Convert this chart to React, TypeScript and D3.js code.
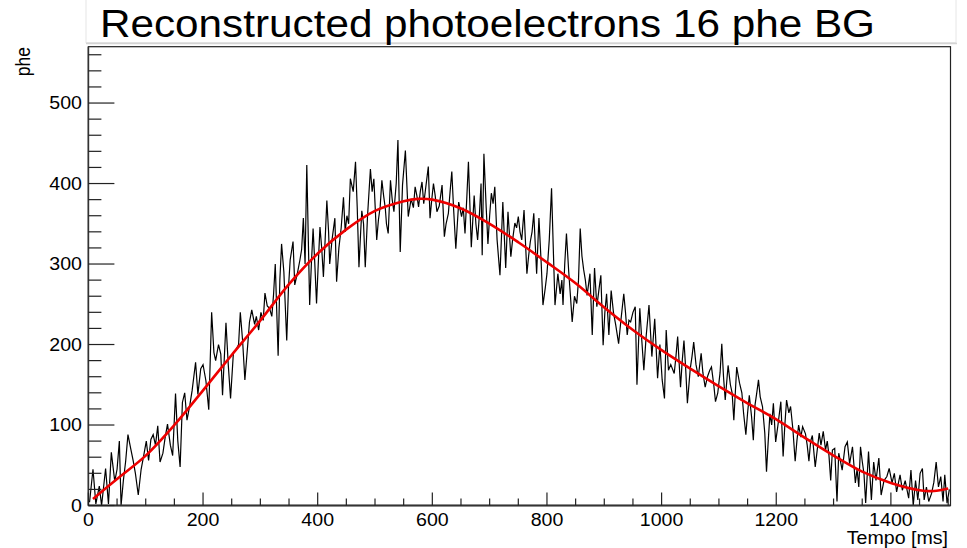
import React from "react";
import * as d3 from "d3";

const W = 967;
const H = 548;

const titleText = "Reconstructed photoelectrons 16 phe BG";
const xLabel = "Tempo [ms]";
const yLabel = "phe";

const xDomain = [0, 1504];
const yDomain = [0, 570];
const xMajorTicks = [0, 200, 400, 600, 800, 1000, 1200, 1400];
const yMajorTicks = [0, 100, 200, 300, 400, 500];

// measured histogram samples (time in ms, counts in phe)
const tMs = [
  2, 8, 13, 19, 23, 30, 35, 40, 46, 50, 54, 57, 61, 65, 69, 74, 78, 82, 87, 92,
  96, 101, 105, 109, 113, 117, 121, 125, 130, 134, 138, 143, 147, 152, 156, 160, 164, 168, 172, 177,
  181, 187, 191, 196, 200, 205, 210, 215, 219, 222, 227, 231, 234, 240, 244, 248, 253, 257,
  262, 265, 269, 273, 278, 281, 285, 290, 293, 297, 301, 305, 308, 312, 316, 320, 323, 326, 331, 334,
  337, 341, 346, 349, 352, 357, 360, 365, 369, 372, 375, 378, 381, 386, 389, 392, 395, 398, 401, 404,
  407, 410, 413, 416, 419, 421, 425, 430, 433, 437, 441, 445, 448, 451, 454, 457, 462, 466, 469, 472,
  475, 477, 480, 483, 487, 492, 495, 498, 503, 506, 509,
  512, 515, 518, 520, 523, 527, 530, 533, 537, 540, 544, 548, 553, 558, 563, 567, 570, 573, 576, 579,
  582, 585, 588, 593, 596, 599, 602, 605, 608, 612, 617, 621, 624, 628, 631, 634, 637, 641, 646, 651,
  654, 657, 660, 663, 668, 673, 676, 679, 682, 685, 687, 690, 694, 697, 700, 703, 706, 709, 713, 718,
  723, 728, 732, 737, 740, 744, 747, 750, 753, 756, 760,
  765, 768, 771, 774, 777, 782, 786, 790, 793, 797, 800, 804, 808, 811, 814, 819, 823, 826, 828, 831,
  834, 838, 841, 844, 848, 852, 855, 858, 861, 864, 867, 870, 875, 879, 883, 887, 891, 894, 898, 901,
  904, 908, 912, 916, 920, 925, 929, 934, 937, 940, 943, 946, 950, 954, 957, 962, 965, 969, 973, 978,
  983, 988, 993, 997, 1001, 1005, 1008, 1012,
  1016, 1022, 1025, 1028, 1033, 1036, 1039, 1042, 1045, 1050, 1053, 1056, 1060, 1064, 1069, 1072, 1076, 1080, 1084, 1087,
  1091, 1094, 1098, 1102, 1105, 1108, 1111, 1116, 1120, 1123, 1126, 1131, 1136, 1140, 1143, 1147, 1150, 1153, 1157, 1160,
  1163, 1166, 1169, 1172, 1176, 1180, 1183, 1186, 1189, 1192, 1195, 1199, 1203, 1208, 1212, 1215, 1218, 1222, 1225, 1229,
  1233, 1236, 1239, 1243, 1246, 1251, 1254, 1257, 1260, 1263, 1268,
  1275, 1278, 1282, 1286, 1289, 1292, 1295, 1298, 1302, 1306, 1309, 1312, 1315, 1320, 1324, 1328, 1333, 1338, 1341, 1344,
  1347, 1350, 1353, 1356, 1361, 1366, 1370, 1374, 1379, 1383, 1388, 1393, 1397, 1402, 1406, 1410, 1416, 1420, 1425, 1431,
  1435, 1439, 1443, 1447, 1451, 1455, 1458, 1462, 1466, 1471, 1475, 1479, 1483, 1487, 1491, 1494, 1498, 1502,
];

const phe = [
  4, 45, 2, 24, 0, 46, 2, 66, 30, 45, 80, 0, 31, 55, 88, 70, 56, 40, 13, 45,
  60, 80, 56, 82, 88, 75, 99, 54, 65, 85, 101, 75, 62, 139, 80, 48, 128, 140, 106, 125,
  143, 178, 138, 170, 175, 155, 119, 240, 190, 180, 200, 188, 137, 227, 175, 133, 190, 193,
  200, 240, 205, 156, 200, 228, 243, 225, 235, 218, 240, 230, 264, 248, 245, 235, 262, 300, 186, 280,
  325, 290, 205, 270, 305, 328, 274, 290, 305, 318, 357, 300, 423, 249, 300, 344, 300, 251, 300, 346,
  320, 284, 330, 379, 340, 300, 330, 357, 278, 320, 345, 383, 340, 360, 350, 406, 390, 427, 370, 296,
  340, 366, 350, 296, 360, 418, 390, 406, 330, 355, 371,
  404, 385, 369, 350, 338, 404, 380, 365, 400, 454, 315, 398, 441, 359, 381, 370, 396, 385, 371, 390,
  402, 375, 392, 421, 357, 380, 400, 385, 365, 372, 398, 334, 350, 363, 390, 415, 370, 319, 377, 359,
  370, 338, 380, 427, 321, 385, 350, 330, 360, 400, 311, 437, 370, 325, 360, 388, 375, 396, 330, 286,
  377, 295, 365, 309, 330, 351, 345, 359, 340, 330, 367,
  288, 310, 328, 340, 363, 288, 357, 300, 249, 270, 288, 330, 394, 320, 249, 288, 263, 280, 249, 300,
  338, 290, 260, 228, 260, 251, 280, 344, 310, 293, 280, 261, 288, 212, 295, 247, 270, 286, 199, 240,
  263, 212, 267, 240, 224, 201, 230, 263, 240, 212, 230, 228, 240, 247, 150, 245, 210, 168, 210, 249,
  185, 232, 158, 200, 156, 133, 218, 168,
  175, 164, 185, 210, 147, 180, 205, 170, 127, 170, 185, 203, 175, 160, 189, 165, 147, 160, 168, 172,
  150, 129, 140, 165, 201, 160, 131, 174, 150, 140, 106, 172, 152, 140, 115, 88, 115, 137, 110, 81,
  125, 140, 156, 135, 123, 90, 42, 80, 114, 100, 127, 79, 100, 129, 61, 100, 131, 115, 123, 95,
  55, 80, 100, 85, 98, 89, 75, 55, 80, 87, 48,
  90, 75, 92, 69, 80, 62, 31, 69, 71, 5, 65, 55, 44, 73, 79, 52, 73, 28, 45, 23,
  73, 55, 40, 3, 67, 7, 54, 31, 59, 13, 31, 36, 46, 28, 40, 17, 38, 19, 31, 9,
  44, 0, 31, 7, 40, 46, 7, 23, 5, 15, 29, 54, 23, 36, 5, 38, 3, 20,
];

// fitted curve samples (time in ms, phe)
const fitT = [8, 50, 100, 150, 200, 250, 300, 350, 400, 450, 500, 550, 575, 600, 650, 700, 750, 800, 850, 900, 950, 1000, 1050, 1100, 1150, 1200, 1250, 1300, 1350, 1400, 1450, 1475, 1500];
const fitV = [8, 33, 62, 100, 143, 187, 230, 275, 313, 343, 366, 378, 381, 380, 369, 350, 327, 302, 276, 246, 218, 193, 170, 148, 127, 107, 84, 62, 42, 28, 19, 18, 21];

const FONT = "'Liberation Sans', Arial, Helvetica, sans-serif";
const SX = 1.12;

export default function App() {
  const left = 88.4;
  const right = 950.5;
  const top = 46.7;
  const bottom = 505.5;

  const x = d3.scaleLinear().domain(xDomain).range([left, right]);
  const y = d3.scaleLinear().domain(yDomain).range([bottom, top]);

  const dataPts: [number, number][] = tMs.map((t, i) => [t, phe[i]]);
  const fitPts: [number, number][] = fitT.map((t, i) => [t, fitV[i]]);

  const line = d3
    .line<[number, number]>()
    .x((d) => x(d[0]))
    .y((d) => y(d[1]));
  const fitLine = d3
    .line<[number, number]>()
    .x((d) => x(d[0]))
    .y((d) => y(d[1]))
    .curve(d3.curveCatmullRom.alpha(0.5));

  const xMinor = d3.range(0, 1501, 50).filter((v) => v % 200 !== 0);
  const yMinor = d3.range(0, 561, 20).filter((v) => v % 100 !== 0);

  return (
    <svg
      width={W}
      height={H}
      style={{ position: "absolute", left: 0, top: 0, background: "#fff" }}
      fontFamily={FONT}
    >
      <rect x={0} y={0} width={W} height={H} fill="#fff" />
      {/* title box */}
      <rect x={86} y={-2} width={870} height={44.5} fill="#fff" stroke="#e6e6e6" strokeWidth={1} />
      <line x1={86} x2={957} y1={43.5} y2={43.5} stroke="#d4d4d4" strokeWidth={1.5} />
      <text
        transform={`translate(100,36.7) scale(1.112,1)`}
        fontSize={38}
        fill="#000"
      >
        {titleText}
      </text>

      <defs>
        <clipPath id="frameClip">
          <rect x={left} y={top} width={right - left} height={bottom - top} />
        </clipPath>
      </defs>

      {/* data */}
      <g clipPath="url(#frameClip)">
        <path d={line(dataPts) || ""} fill="none" stroke="#000" strokeWidth={1.2} strokeLinejoin="miter" />
        <path d={fitLine(fitPts) || ""} fill="none" stroke="#ee0000" strokeWidth={2.6} />
      </g>

      {/* frame */}
      <rect x={left} y={top} width={right - left} height={bottom - top} fill="none" stroke="#222" strokeWidth={1.2} />
      <line x1={left} x2={right} y1={bottom} y2={bottom} stroke="#333" strokeWidth={2} />
      <line x1={left} x2={left} y1={top} y2={bottom} stroke="#333" strokeWidth={1.6} />

      {/* y ticks */}
      {yMajorTicks.map((v) => (
        <g key={"ym" + v}>
          <line x1={left} x2={left + 26} y1={y(v)} y2={y(v)} stroke="#222" strokeWidth={1.2} />
          <text
            transform={`translate(82,${y(v) + 6.2}) scale(${SX},1)`}
            textAnchor="end"
            fontSize={17.5}
            fill="#000"
          >
            {v}
          </text>
        </g>
      ))}
      {yMinor.map((v) => (
        <line key={"yn" + v} x1={left} x2={left + 13} y1={y(v)} y2={y(v)} stroke="#222" strokeWidth={1.2} />
      ))}

      {/* x ticks */}
      {xMajorTicks.map((v) => (
        <g key={"xm" + v}>
          <line x1={x(v)} x2={x(v)} y1={bottom} y2={bottom - 13} stroke="#222" strokeWidth={1.2} />
          <text
            transform={`translate(${x(v)},525.5) scale(${SX},1)`}
            textAnchor="middle"
            fontSize={17.5}
            fill="#000"
          >
            {v}
          </text>
        </g>
      ))}
      {xMinor.map((v) => (
        <line key={"xn" + v} x1={x(v)} x2={x(v)} y1={bottom} y2={bottom - 7} stroke="#222" strokeWidth={1.2} />
      ))}

      {/* axis titles */}
      <text
        transform={`translate(948,544) scale(${SX},1)`}
        textAnchor="end"
        fontSize={17.5}
        fill="#000"
      >
        {xLabel}
      </text>
      <text
        transform={`translate(30,47) rotate(-90) scale(1,${SX})`}
        textAnchor="end"
        fontSize={17.5}
        fill="#000"
      >
        {yLabel}
      </text>
    </svg>
  );
}
